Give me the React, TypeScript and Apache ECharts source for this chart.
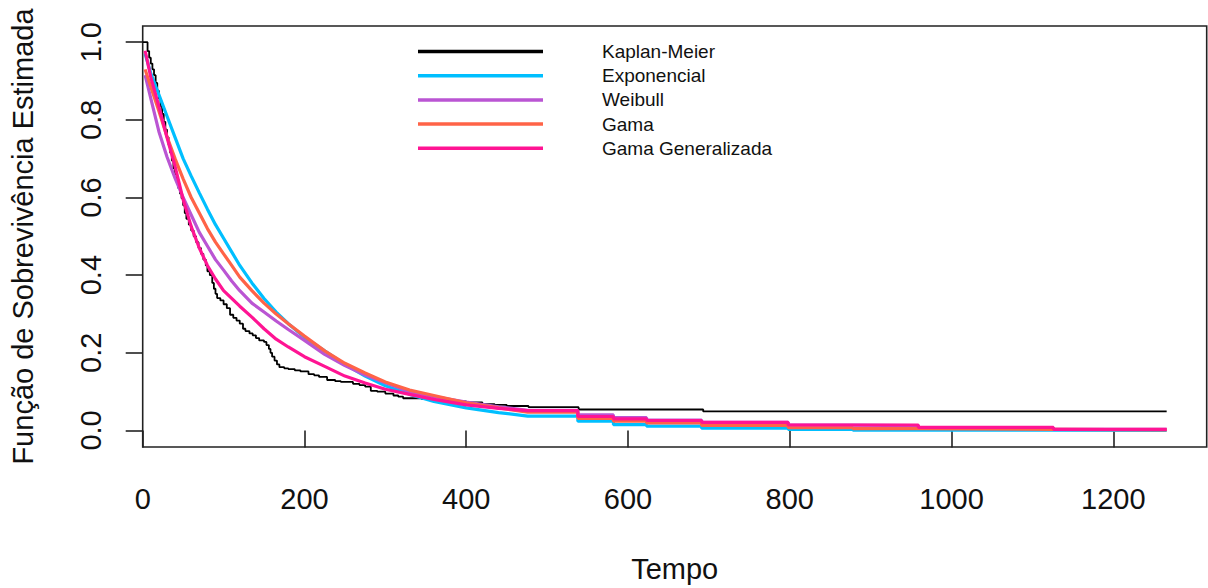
import React, { useEffect, useRef } from "react";
import * as echarts from "echarts";

const seriesNames = ["Kaplan-Meier", "Exponencial", "Weibull", "Gama", "Gama Generalizada"];
const seriesColors = ["#000000", "#00BFFF", "#BA55D3", "#FF6347", "#FF1493"];

const xTicks = [0, 200, 400, 600, 800, 1000, 1200];
const yTicks = [0, 0.2, 0.4, 0.6, 0.8, 1.0];

// Kaplan-Meier step function (time, survival after the step)
const kmTime = [0, 6, 8, 10, 12, 14, 16, 18, 20, 22, 24, 26, 28, 30, 32, 34, 36, 38, 40, 42, 44, 46, 48, 50, 52, 54, 57, 60, 63, 66, 69, 72, 75, 78, 80, 83, 86, 88, 90, 92, 96, 100, 104, 108, 112, 116, 120, 124, 127, 132, 136, 140, 144, 150, 153, 156, 158, 160, 163, 166, 169, 175, 180, 188, 195, 205, 212, 218, 228, 238, 245, 260, 268, 275, 282, 290, 300, 310, 316, 322, 345, 360, 380, 400, 420, 435, 450, 477, 539, 693, 1266];
const kmSurv = [1.0, 0.977, 0.96, 0.945, 0.93, 0.915, 0.895, 0.875, 0.855, 0.835, 0.815, 0.795, 0.775, 0.755, 0.735, 0.715, 0.695, 0.675, 0.66, 0.64, 0.624, 0.61, 0.598, 0.58, 0.56, 0.545, 0.53, 0.515, 0.5, 0.485, 0.47, 0.455, 0.44, 0.425, 0.41, 0.4, 0.38, 0.365, 0.352, 0.341, 0.335, 0.325, 0.315, 0.298, 0.29, 0.283, 0.275, 0.262, 0.256, 0.25, 0.245, 0.238, 0.232, 0.228, 0.22, 0.21, 0.2, 0.19, 0.18, 0.17, 0.163, 0.16, 0.158, 0.155, 0.152, 0.145, 0.142, 0.138, 0.13, 0.127, 0.125, 0.12, 0.117, 0.113, 0.102, 0.1, 0.095, 0.09, 0.087, 0.083, 0.081, 0.078, 0.075, 0.072, 0.068, 0.066, 0.063, 0.06, 0.054, 0.049, 0.049];

// Fitted models evaluated at these times
const fitTime = [3, 10, 20, 30, 40, 50, 60, 70, 80, 90, 100, 110, 120, 135, 150, 165, 180, 200, 225, 250, 275, 300, 330, 360, 400, 440, 476, 538, 582, 623, 691, 798, 878, 959, 1126, 1266];
const expSurv = [0.97, 0.92, 0.865, 0.81, 0.755, 0.7, 0.655, 0.612, 0.57, 0.53, 0.495, 0.46, 0.425, 0.38, 0.34, 0.305, 0.275, 0.24, 0.205, 0.17, 0.14, 0.115, 0.093, 0.075, 0.058, 0.046, 0.037, 0.024, 0.015, 0.011, 0.006, 0.003, 0.001, 0.0005, 0.0003, 0.0002];
const weibullSurv = [0.915, 0.855, 0.77, 0.705, 0.65, 0.6, 0.555, 0.51, 0.475, 0.44, 0.413, 0.385, 0.36, 0.328, 0.305, 0.282, 0.26, 0.232, 0.196, 0.167, 0.143, 0.123, 0.1, 0.087, 0.073, 0.061, 0.052, 0.04, 0.033, 0.027, 0.021, 0.0135, 0.0125, 0.007, 0.003, 0.002];
const gamaSurv = [0.93, 0.885, 0.823, 0.757, 0.7, 0.648, 0.6, 0.56, 0.52, 0.485, 0.455, 0.425, 0.395, 0.36, 0.328, 0.3, 0.275, 0.243, 0.205, 0.173, 0.148, 0.125, 0.104, 0.09, 0.071, 0.058, 0.047, 0.031, 0.024, 0.0194, 0.013, 0.007, 0.0045, 0.003, 0.0015, 0.001];
const ggSurv = [0.978, 0.91, 0.835, 0.755, 0.68, 0.595, 0.525, 0.47, 0.425, 0.39, 0.36, 0.34, 0.32, 0.292, 0.262, 0.235, 0.215, 0.19, 0.165, 0.14, 0.122, 0.106, 0.093, 0.08, 0.066, 0.057, 0.051, 0.036, 0.03, 0.0256, 0.021, 0.014, 0.014, 0.0077, 0.003, 0.003];

const FONT = "'Liberation Sans', Arial, sans-serif";
const STEP_FROM = 530;

function pairs(times: number[], vals: number[]) {
  return times.map((t, i) => [t, vals[i]]);
}

// sparse tail is drawn as a staircase (horizontal then vertical), as in the reference
function stairTail(times: number[], vals: number[]) {
  const out: number[][] = [];
  times.forEach((t, i) => {
    if (i > 0 && t >= STEP_FROM) out.push([t, vals[i - 1]]);
    out.push([t, vals[i]]);
  });
  return out;
}

export default function App() {
  const ref = useRef<HTMLDivElement>(null);
  useEffect(() => {
    const chart = echarts.init(ref.current!, null, { renderer: "svg" });
    const fitted = [expSurv, weibullSurv, gamaSurv, ggSurv];
    const series: any[] = [
      {
        name: seriesNames[0],
        type: "line",
        step: "end",
        data: pairs(kmTime, kmSurv),
        showSymbol: false,
        symbol: "none",
        lineStyle: { color: seriesColors[0], width: 1.8 },
        itemStyle: { color: seriesColors[0] },
      },
      ...fitted.map((vals, k) => ({
        name: seriesNames[k + 1],
        type: "line",
        data: stairTail(fitTime, vals),
        showSymbol: false,
        symbol: "none",
        lineStyle: { color: seriesColors[k + 1], width: 3.2 },
        itemStyle: { color: seriesColors[k + 1] },
      })),
    ];
    chart.setOption({
      animation: false,
      backgroundColor: "#ffffff",
      textStyle: { fontFamily: FONT },
      grid: {
        left: 142.7,
        top: 26,
        right: 1.3,
        bottom: 138,
        show: true,
        borderColor: "#222222",
        borderWidth: 1.6,
        containLabel: false,
      },
      legend: {
        orient: "vertical",
        left: 418,
        top: 41.5,
        padding: 0,
        icon: "rect",
        itemWidth: 125,
        itemHeight: 3.5,
        itemGap: 4.2,
        data: seriesNames,
        textStyle: {
          fontFamily: FONT,
          fontSize: 19,
          lineHeight: 20,
          color: "#111111",
          padding: [0, 0, 0, 54],
        },
        selectedMode: false,
      },
      xAxis: {
        type: "value",
        min: 0,
        max: 1315.5,
        name: "Tempo",
        nameLocation: "middle",
        nameGap: 107,
        nameTextStyle: { fontFamily: FONT, fontSize: 29, color: "#111111" },
        axisLine: { show: false },
        splitLine: { show: false },
        axisTick: {
          show: true,
          inside: false,
          length: 17,
          customValues: xTicks,
          lineStyle: { color: "#222222", width: 1.6 },
        },
        axisLabel: {
          customValues: xTicks,
          margin: 37.5,
          fontFamily: FONT,
          fontSize: 29,
          color: "#111111",
          formatter: (v: number) => String(v),
        },
      },
      yAxis: {
        type: "value",
        min: -0.0426,
        max: 1.0417,
        name: "Função de Sobrevivência Estimada",
        nameLocation: "middle",
        nameGap: 105.5,
        nameRotate: 90,
        nameTextStyle: { fontFamily: FONT, fontSize: 29, color: "#111111" },
        axisLine: { show: false },
        splitLine: { show: false },
        axisTick: {
          show: true,
          inside: false,
          length: 17,
          customValues: yTicks,
          lineStyle: { color: "#222222", width: 1.6 },
        },
        axisLabel: {
          customValues: yTicks,
          rotate: 90,
          margin: 37,
          fontFamily: FONT,
          fontSize: 29,
          color: "#111111",
          formatter: (v: number) => v.toFixed(1),
        },
      },
      series,
    });
    return () => chart.dispose();
  }, []);
  return (
    <div
      ref={ref}
      style={{ position: "fixed", left: 0, top: 0, width: 1208, height: 588, background: "#ffffff" }}
    />
  );
}
